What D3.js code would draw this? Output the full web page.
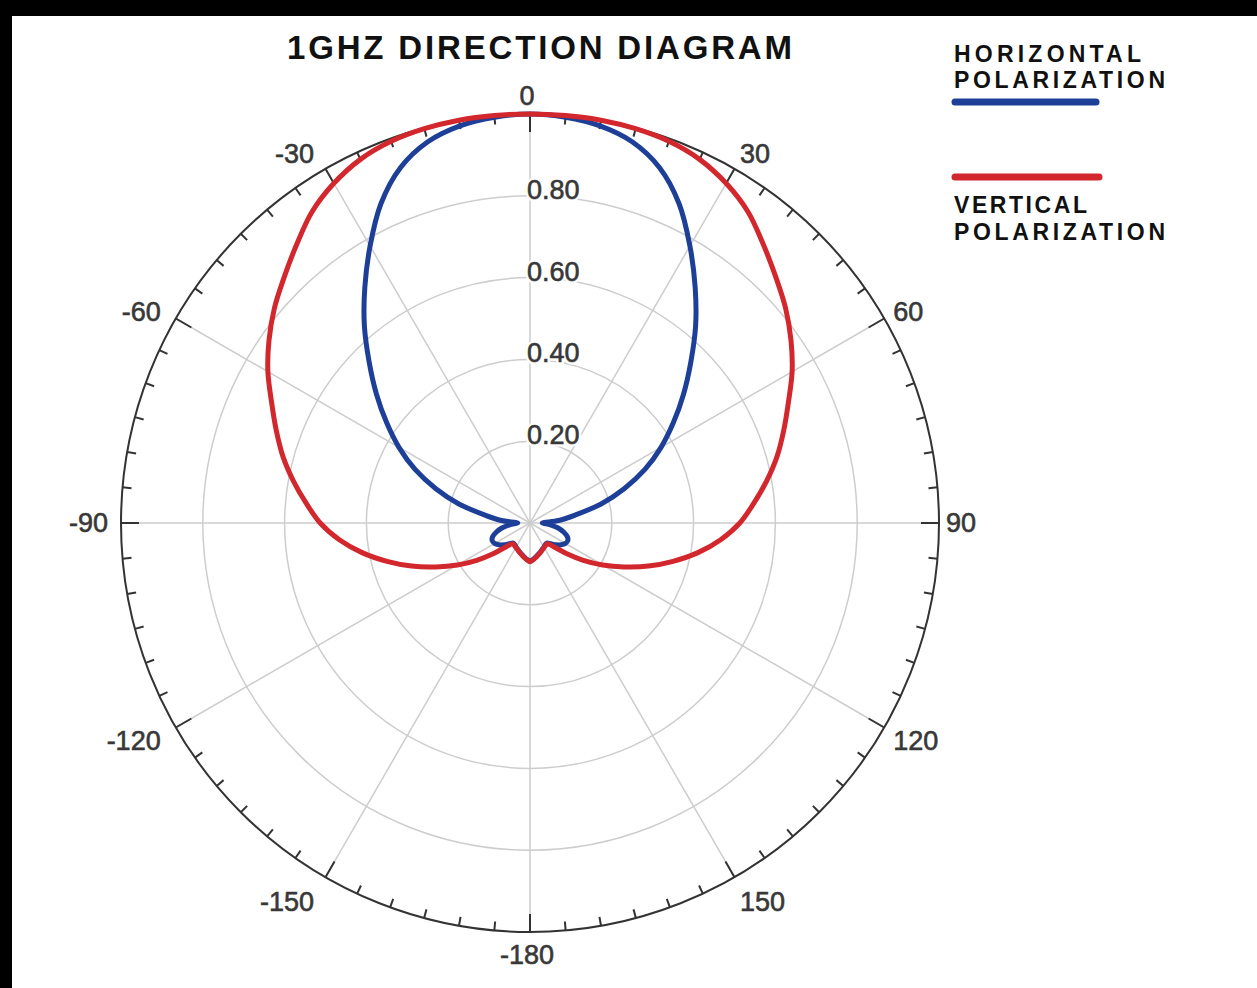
<!DOCTYPE html>
<html>
<head>
<meta charset="utf-8">
<script src="https://cdn.jsdelivr.net/npm/d3@7"></script>
<style>
  html, body { margin: 0; padding: 0; background: #fff; }
  svg { display: block; }
</style>
</head>
<body>
<div id="chart"></div>
<script>
// angle in degrees, clockwise from the top
const angles = [-175, -170, -165, -160, -155, -150, -145, -140, -135, -130, -125, -120,
  -115, -110, -105, -100, -95, -90, -85, -80, -75, -70, -65, -60,
  -55, -50, -45, -40, -35, -30, -25, -20, -15, -10, -5, 0,
  5, 10, 15, 20, 25, 30, 35, 40, 45, 50, 55, 60,
  65, 70, 75, 80, 85, 90, 95, 100, 105, 110, 115, 120,
  125, 130, 135, 140, 145, 150, 155, 160, 165, 170, 175, 180];

const horizontal = [0.089, 0.084, 0.079, 0.075, 0.071, 0.068, 0.065, 0.064, 0.072, 0.083, 0.093, 0.100,
  0.102, 0.097, 0.085, 0.070, 0.050, 0.030, 0.070, 0.112, 0.180, 0.245, 0.310, 0.370,
  0.428, 0.490, 0.556, 0.630, 0.704, 0.782, 0.862, 0.925, 0.965, 0.986, 0.996, 1.000,
  0.996, 0.986, 0.965, 0.925, 0.862, 0.782, 0.704, 0.630, 0.556, 0.490, 0.428, 0.370,
  0.310, 0.245, 0.180, 0.112, 0.070, 0.030, 0.050, 0.070, 0.085, 0.097, 0.102, 0.100,
  0.093, 0.083, 0.072, 0.064, 0.065, 0.068, 0.071, 0.075, 0.079, 0.084, 0.089, 0.092];

const vertical = [0.090, 0.085, 0.080, 0.076, 0.072, 0.069, 0.067, 0.066, 0.082, 0.116, 0.159, 0.205,
  0.254, 0.308, 0.362, 0.417, 0.468, 0.513, 0.549, 0.587, 0.625, 0.660, 0.697, 0.740,
  0.779, 0.816, 0.850, 0.888, 0.929, 0.959, 0.981, 0.993, 0.998, 1.000, 1.000, 1.000,
  1.000, 1.000, 0.998, 0.993, 0.981, 0.959, 0.929, 0.888, 0.850, 0.816, 0.779, 0.740,
  0.697, 0.660, 0.625, 0.587, 0.549, 0.513, 0.468, 0.417, 0.362, 0.308, 0.254, 0.205,
  0.159, 0.116, 0.082, 0.066, 0.067, 0.069, 0.072, 0.076, 0.080, 0.085, 0.090, 0.095];

const angleTicks = [0, 30, 60, 90, 120, 150, 180, -150, -120, -90, -60, -30];
const angleLabels = ["0", "30", "60", "90", "120", "150", "-180", "-150", "-120", "-90", "-60", "-30"];
const radialTicks = [0.2, 0.4, 0.6, 0.8];
const radialLabels = ["0.20", "0.40", "0.60", "0.80"];
const title = "1GHZ DIRECTION DIAGRAM";
const legendNames = [["HORIZONTAL", "POLARIZATION"], ["VERTICAL", "POLARIZATION"]];

const width = 1257, height = 988;
const cx = 530, cy = 523, R = 409;
const blue = "#1d3f98", red = "#d3272e";
const labelFont = "27px 'Liberation Sans', Arial, sans-serif";

const svg = d3.select("#chart").append("svg")
    .attr("width", width)
    .attr("height", height);

// black frame on top and left
svg.append("rect").attr("width", width).attr("height", 16).attr("fill", "#000");
svg.append("rect").attr("width", 12).attr("height", height).attr("fill", "#000");

const r = d3.scaleLinear().domain([0, 1]).range([0, R]);
const a = d3.scaleLinear().domain([-180, 180]).range([-Math.PI, Math.PI]);

const plot = svg.append("g").attr("transform", `translate(${cx},${cy})`);

// grid
plot.append("g")
    .attr("fill", "none")
    .attr("stroke", "#cdcdcd")
    .attr("stroke-width", 1.5)
    .selectAll("circle")
    .data(radialTicks)
    .join("circle")
    .attr("r", d => r(d));

plot.append("g")
    .attr("stroke", "#cdcdcd")
    .attr("stroke-width", 1.5)
    .selectAll("line")
    .data(angleTicks)
    .join("line")
    .attr("x2", d => r(1) * Math.sin(a(d)))
    .attr("y2", d => -r(1) * Math.cos(a(d)));

// radial labels
const rl = plot.append("g")
    .style("font", labelFont)
    .selectAll("g")
    .data(radialTicks)
    .join("g");
rl.append("text")
    .attr("x", -3)
    .attr("y", d => -r(d) + 3)
    .attr("fill", "#fff")
    .attr("stroke", "#fff")
    .attr("stroke-width", 5)
    .text((d, i) => radialLabels[i]);
rl.append("text")
    .attr("x", -3)
    .attr("y", d => -r(d) + 3)
    .attr("fill", "#383838")
    .attr("stroke", "#383838")
    .attr("stroke-width", 0.6)
    .text((d, i) => radialLabels[i]);

// outer ring with ticks every 5 degrees
plot.append("circle")
    .attr("r", r(1))
    .attr("fill", "none")
    .attr("stroke", "#333")
    .attr("stroke-width", 2);

plot.append("g")
    .attr("stroke", "#333")
    .attr("stroke-width", 2)
    .selectAll("line")
    .data(d3.range(-175, 181, 5))
    .join("line")
    .attr("x1", d => r(1) * Math.sin(a(d)))
    .attr("y1", d => -r(1) * Math.cos(a(d)))
    .attr("x2", d => (r(1) - (d % 30 === 0 ? 18 : 9)) * Math.sin(a(d)))
    .attr("y2", d => -(r(1) - (d % 30 === 0 ? 18 : 9)) * Math.cos(a(d)));

// angle labels
plot.append("g")
    .style("font", labelFont)
    .attr("fill", "#383838")
    .attr("stroke", "#383838")
    .attr("stroke-width", 0.6)
    .selectAll("text")
    .data(angleTicks)
    .join("text")
    .each(function (d, i) {
        const t = a(d), s = Math.sin(t), c = Math.cos(t);
        const dist = 419 + 8 * Math.abs(c);
        d3.select(this)
            .attr("x", -3 + dist * s)
            .attr("y", -dist * c + 12 * Math.max(0, -c) * (Math.abs(s) > 0.01 ? 1 : 0.4))
            .attr("dominant-baseline", "central")
            .attr("text-anchor", s > 0.01 ? "start" : s < -0.01 ? "end" : "middle")
            .text(angleLabels[i]);
    });

// patterns
const line = d3.lineRadial()
    .angle(d => a(d[0]))
    .radius(d => r(d[1]))
    .curve(d3.curveCatmullRomClosed.alpha(0.5));

plot.append("path")
    .datum(d3.zip(angles, horizontal))
    .attr("d", line)
    .attr("fill", "none")
    .attr("stroke", blue)
    .attr("stroke-width", 5)
    .attr("stroke-linejoin", "round");

plot.append("path")
    .datum(d3.zip(angles, vertical))
    .attr("d", line)
    .attr("fill", "none")
    .attr("stroke", red)
    .attr("stroke-width", 5)
    .attr("stroke-linejoin", "round");

// title
svg.append("text")
    .attr("x", 287)
    .attr("y", 59)
    .attr("textLength", 505)
    .attr("lengthAdjust", "spacing")
    .style("font", "bold 33px 'Liberation Sans', Arial, sans-serif")
    .attr("fill", "#111")
    .text(title);

// legend
const legend = svg.append("g")
    .style("font", "bold 23px 'Liberation Sans', Arial, sans-serif")
    .attr("fill", "#111");

const legendText = [
    {t: legendNames[0][0], y: 62, w: 187},
    {t: legendNames[0][1], y: 88, w: 211},
    {t: legendNames[1][0], y: 213, w: 133},
    {t: legendNames[1][1], y: 240, w: 211}
];
legend.selectAll("text")
    .data(legendText)
    .join("text")
    .attr("x", 954)
    .attr("y", d => d.y)
    .attr("textLength", d => d.w)
    .attr("lengthAdjust", "spacing")
    .text(d => d.t);

legend.append("line")
    .attr("x1", 955).attr("x2", 1096)
    .attr("y1", 102).attr("y2", 102)
    .attr("stroke", blue).attr("stroke-width", 7).attr("stroke-linecap", "round");

legend.append("line")
    .attr("x1", 955).attr("x2", 1099)
    .attr("y1", 177).attr("y2", 177)
    .attr("stroke", red).attr("stroke-width", 7).attr("stroke-linecap", "round");
</script>
</body>
</html>
